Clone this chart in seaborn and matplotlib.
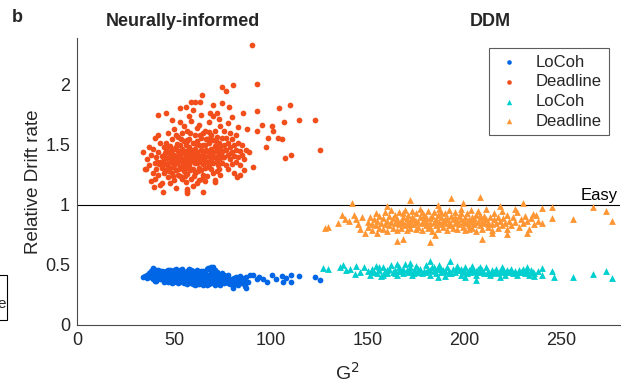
import matplotlib
matplotlib.use("Agg")
import matplotlib.pyplot as plt
import seaborn as sns
import pandas as pd
from matplotlib.patches import Rectangle

# ---------------- data ----------------
# Neurally-informed, Deadline (red circles)
neu_dl = [
    (36,1.38),(37,1.33),(38,1.42),(39,1.27),(39,1.47),(40,1.35),(40,1.22),(41,1.40),(41,1.30),(42,1.44),
    (42,1.25),(43,1.36),(43,1.52),(44,1.31),(44,1.41),(44,1.18),(45,1.48),(45,1.34),(45,1.27),(35,1.30),
    (37,1.48),(38,1.20),(40,1.56),(42,1.58),(43,1.17),
    (46,1.39),(46,1.29),(46,1.52),(47,1.44),(47,1.35),(47,1.23),(47,1.60),(48,1.41),(48,1.31),(48,1.49),
    (48,1.18),(49,1.37),(49,1.46),(49,1.27),(49,1.55),(50,1.42),(50,1.33),(50,1.21),(50,1.63),(51,1.39),
    (51,1.48),(51,1.29),(51,1.14),(52,1.45),(52,1.36),(52,1.25),(52,1.57),(53,1.41),(53,1.32),(53,1.50),
    (53,1.69),(54,1.38),(54,1.47),(54,1.22),(54,1.60),(55,1.43),(55,1.34),(55,1.28),(55,1.53),(46,1.45),
    (48,1.36),(50,1.47),(52,1.40),(54,1.31),(55,1.66),(49,1.71),(51,1.58),(53,1.24),(47,1.49),(50,1.38),
    (56,1.40),(56,1.31),(56,1.50),(56,1.19),(57,1.44),(57,1.36),(57,1.26),(57,1.62),(58,1.41),(58,1.48),
    (58,1.33),(58,1.55),(59,1.37),(59,1.45),(59,1.22),(59,1.70),(60,1.42),(60,1.52),(60,1.30),(60,1.16),
    (61,1.39),(61,1.47),(61,1.58),(61,1.27),(62,1.44),(62,1.35),(62,1.64),(63,1.41),(63,1.50),(63,1.31),
    (63,1.21),(64,1.46),(64,1.38),(64,1.56),(64,1.75),(65,1.43),(65,1.34),(65,1.60),(65,1.25),(56,1.45),
    (58,1.38),(60,1.46),(62,1.53),(64,1.29),(57,1.53),(59,1.30),(61,1.35),(63,1.67),(65,1.50),(62,1.18),
    (60,1.79),(58,1.74),(56,1.82),(57,1.13),
    (66,1.40),(66,1.50),(66,1.31),(66,1.62),(67,1.45),(67,1.36),(67,1.55),(67,1.24),(68,1.42),(68,1.52),
    (68,1.33),(68,1.69),(69,1.47),(69,1.38),(69,1.58),(70,1.44),(70,1.35),(70,1.54),(70,1.27),(71,1.49),
    (71,1.40),(71,1.62),(71,1.21),(72,1.46),(72,1.37),(72,1.57),(73,1.43),(73,1.52),(73,1.30),(74,1.48),
    (74,1.39),(74,1.66),(75,1.45),(75,1.35),(75,1.56),(66,1.20),(68,1.61),(70,1.74),(72,1.28),(74,1.25),
    (69,1.30),(73,1.72),
    (76,1.50),(76,1.40),(76,1.62),(77,1.46),(77,1.33),(77,1.56),(78,1.42),(78,1.52),(78,1.30),(79,1.48),
    (79,1.38),(79,1.60),(80,1.44),(80,1.34),(80,1.55),(81,1.50),(81,1.41),(82,1.46),(82,1.36),(82,1.58),
    (83,1.40),(83,1.52),(84,1.45),(84,1.33),(85,1.42),(85,1.50),(86,1.38),(86,1.29),(78,1.68),(81,1.27),
    (83,1.65),(84,1.25),(80,1.73),(87,1.46),
    (44.5,1.37),(45.5,1.43),(46.5,1.33),(47.5,1.40),(48.5,1.45),(49.5,1.32),(50.5,1.40),(51.5,1.35),
    (52.5,1.43),(53.5,1.37),(54.5,1.35),(55.5,1.39),(56.5,1.35),(57.5,1.41),(58.5,1.29),(59.5,1.40),
    (60.5,1.36),(61.5,1.43),(62.5,1.39),(63.5,1.36),(64.5,1.42),(65.5,1.38),(66.5,1.46),(67.5,1.41),
    (68.5,1.37),(69.5,1.43),(70.5,1.40),(71.5,1.45),(72.5,1.41),(73.5,1.47),(74.5,1.43),(75.5,1.40),
    (42.5,1.34),(41.5,1.36),(47.5,1.28),(52.5,1.30),(57.5,1.31),(62.5,1.28),(67.5,1.32),(72.5,1.33),
    (46.5,1.48),(51.5,1.51),(56.5,1.54),(61.5,1.51),(66.5,1.55),(71.5,1.53),(76.5,1.46),(79.5,1.43),
    (55.5,1.24),(60.5,1.24),(64.5,1.22),(49.5,1.24),(53.5,1.55),(58.5,1.60),(63.5,1.58),(68.5,1.56),
    (90.2,2.33),(92.8,2.01),(75,1.98),(80.6,2.0),(76.8,1.95),(110,1.83),(104,1.81),(122.7,1.71),
    (114.4,1.71),(106.7,1.69),(125.3,1.46),(110.3,1.42),(107.2,1.39),(97.4,1.48),(90.7,1.32),(105.7,1.55),
    (103.6,1.56),(98.5,1.56),(101,1.62),(100.5,1.66),(95.4,1.67),(92.6,1.78),(85.6,1.77),(92.6,1.62),
    (87.6,1.63),(88.7,1.44),(82.5,1.23),(71,1.19),(65,1.11),(57,1.10),(56.7,1.12),(44.3,1.11),(39.7,1.15),
    (34,1.44),(35.6,1.30),(41.9,1.75),(45.8,1.77),(53,1.81),(64.4,1.92),(59,1.86),(63.4,1.86),(61,1.86),
    (70,1.83),(74.7,1.85),(78.4,1.82),(72,1.77),(68.6,1.77),
]

# Neurally-informed, LoCoh (blue circles)
neu_lo = [
    (35,0.41),(36,0.39),(37,0.43),(38,0.40),(38,0.45),(39,0.42),(39,0.38),(40,0.44),(40,0.40),(41,0.46),
    (41,0.41),(41,0.37),(42,0.43),(42,0.39),(43,0.45),(43,0.41),(44,0.42),(44,0.38),(45,0.44),(45,0.40),
    (45,0.36),(39,0.47),(42,0.46),(44,0.45),(37,0.40),(40,0.37),(43,0.38),(36,0.42),
    (46,0.41),(46,0.45),(46,0.38),(47,0.43),(47,0.39),(47,0.36),(48,0.42),(48,0.46),(48,0.40),(49,0.44),
    (49,0.38),(49,0.41),(50,0.43),(50,0.39),(50,0.46),(51,0.41),(51,0.37),(51,0.44),(52,0.42),(52,0.38),
    (52,0.45),(53,0.40),(53,0.36),(53,0.43),(54,0.41),(54,0.44),(54,0.38),(55,0.42),(55,0.39),(55,0.35),
    (47,0.46),(49,0.35),(51,0.47),(53,0.46),(50,0.36),(48,0.37),(52,0.35),(54,0.47),
    (56,0.40),(56,0.44),(56,0.37),(57,0.42),(57,0.38),(57,0.45),(58,0.41),(58,0.36),(58,0.44),(59,0.39),
    (59,0.43),(59,0.35),(60,0.41),(60,0.37),(60,0.45),(61,0.40),(61,0.43),(61,0.36),(62,0.38),(62,0.42),
    (62,0.34),(63,0.40),(63,0.44),(63,0.37),(64,0.39),(64,0.35),(64,0.42),(65,0.38),(65,0.41),(65,0.33),
    (58,0.47),(60,0.34),(62,0.46),(64,0.45),(57,0.34),(59,0.46),(61,0.33),(63,0.34),(65,0.45),
    (66,0.39),(66,0.36),(66,0.43),(67,0.40),(67,0.37),(67,0.47),(68,0.38),(68,0.42),(68,0.34),(69,0.40),
    (69,0.36),(69,0.48),(70,0.39),(70,0.43),(70,0.35),(71,0.37),(71,0.41),(71,0.33),(72,0.39),(72,0.36),
    (72,0.44),(73,0.38),(73,0.34),(73,0.42),(74,0.37),(74,0.40),(75,0.36),(75,0.39),(75,0.43),(76,0.35),
    (76,0.38),(67,0.33),(69,0.44),(71,0.46),(74,0.33),(76,0.42),(68,0.47),
    (77,0.37),(77,0.40),(78,0.35),(78,0.39),(79,0.37),(79,0.34),(80,0.38),(80,0.36),(80.6,0.31),(81,0.39),
    (81,0.35),(82,0.37),(82,0.40),(83,0.36),(83,0.33),(84,0.38),(85,0.35),(85,0.39),(86,0.37),(86.6,0.325),
    (87.3,0.31),(87,0.40),(88,0.36),(89,0.42),(78,0.42),(84,0.41),(82,0.34),
    (90.7,0.42),(92.6,0.38),(94,0.40),(96,0.38),(97.8,0.36),(100.5,0.42),(102.6,0.38),(105.7,0.41),
    (106.4,0.36),(108,0.39),(110.3,0.42),(110.3,0.36),(114.4,0.41),(122.7,0.40),(125.3,0.375),
    (34,0.40),(39.2,0.475),(67.6,0.475),(70,0.48),
]

# DDM, LoCoh (cyan triangles)
ddm_lo = [
    (126.8,0.475),(129.4,0.47),(135.6,0.48),(137,0.50),(141,0.47),(143.8,0.49),(143.3,0.425),(139,0.46),
    (146,0.44),(148,0.48),
    (150,0.45),(151,0.42),(152,0.47),(153,0.44),(154,0.49),(155,0.43),(156,0.46),(157,0.41),(158,0.48),
    (159,0.45),(160,0.43),(161,0.47),(162,0.50),(163,0.44),(164,0.46),(165,0.42),(166,0.48),(167,0.45),
    (168,0.43),(169,0.51),(170,0.46),(171,0.44),(172,0.48),(173,0.42),(174,0.46),(175,0.49),(176,0.44),
    (177,0.47),(178,0.43),(179,0.45),(180,0.50),(181,0.46),(182,0.42),(183,0.48),(184,0.45),(185,0.43),
    (186,0.47),(187,0.50),(188,0.44),(189,0.46),(190,0.41),(191,0.48),(192,0.45),(193,0.43),(194,0.47),
    (195,0.44),(196,0.49),(197,0.46),(198,0.42),(199,0.45),(200,0.48),(201,0.43),(202,0.46),(203,0.44),
    (204,0.49),(205,0.45),(206,0.42),(207,0.47),(208,0.44),(209,0.46),(210,0.43),(211,0.48),(212,0.45),
    (213,0.42),(214,0.46),(215,0.44),(216,0.47),(217,0.43),(218,0.45),(219,0.48),(220,0.44),(221,0.42),
    (222,0.46),(223,0.44),(224,0.47),(225,0.43),(226,0.45),(227,0.42),(228,0.46),(229,0.44),(230,0.47),
    (231,0.43),(232,0.45),(233,0.42),(234,0.46),(235,0.44),(236,0.43),(238,0.45),(240,0.42),
    (152,0.44),(156,0.48),(160,0.46),(164,0.43),(168,0.47),(172,0.45),(176,0.47),(180,0.44),(184,0.48),
    (188,0.47),(192,0.43),(196,0.46),(200,0.44),(204,0.46),(208,0.48),(212,0.43),(216,0.45),(220,0.47),
    (224,0.45),(228,0.44),(158,0.42),(166,0.45),(174,0.43),(182,0.46),(190,0.45),(198,0.47),(206,0.45),
    (214,0.43),(222,0.45),(230,0.45),
    (171.6,0.52),(182,0.53),(192.3,0.53),(206,0.375),(232,0.48),(239.7,0.475),(244.8,0.45),(245.9,0.40),
    (255.7,0.40),(266,0.425),(273,0.45),(275.8,0.39),(235.7,0.41),(165,0.51),(200,0.40),(218,0.40),
    (186,0.40),
]

# DDM, Deadline (orange triangles)
ddm_dl = [
    (127.8,0.81),(129.4,0.82),(134.5,0.85),(136.6,0.92),(140.2,0.87),(142.9,0.92),(142,1.02),(138,0.88),
    (145,0.84),(146,0.80),(148.5,0.77),(147,0.90),(144,0.88),
    (150,0.86),(150,0.82),(151,0.90),(152,0.84),(152,0.79),(153,0.88),(154,0.93),(154,0.83),(155,0.77),
    (155,0.87),(156,0.91),(156,0.81),(157,0.85),(158,0.89),(158,0.80),(159,0.94),(159,0.84),(160,0.87),
    (160,0.78),(161,0.91),(161,0.83),(162,0.86),(162,0.96),(163,0.81),(163,0.89),(164,0.85),(164,0.92),
    (165,0.79),(165,0.88),(166,0.84),(166,0.94),(167,0.87),(167,0.81),(168,0.90),(168,0.85),(169,0.96),
    (169,0.83),(170,0.88),(170,0.79),(171,0.92),(171,0.85),(172,0.87),(172,0.81),(173,0.90),(173,0.95),
    (174,0.84),(174,0.88),(175,0.80),(175,0.93),(176,0.86),(176,0.82),(177,0.90),(177,0.97),(178,0.85),
    (178,0.79),(179,0.88),(179,0.92),(180,0.83),(180,0.87),(181,0.95),(181,0.81),(182,0.89),(182,0.85),
    (183,0.91),(183,0.78),(184,0.86),(184,0.94),(185,0.83),(185,0.88),(186,0.92),(186,0.80),(187,0.86),
    (187,0.97),(188,0.84),(188,0.90),(189,0.87),(189,0.82),(190,0.93),(190,0.85),(191,0.89),(191,0.79),
    (192,0.86),(192,0.96),(193,0.83),(193,0.91),(194,0.88),(194,0.81),(195,0.85),(195,0.94),(196,0.87),
    (196,0.80),(197,0.91),(197,0.84),(198,0.88),(198,0.97),(199,0.82),(199,0.86),(200,0.90),(200,0.79),
    (201,0.85),(201,0.93),(202,0.88),(202,0.83),(203,0.96),(203,0.86),(204,0.81),(204,0.90),(205,0.87),
    (205,0.84),(206,0.92),(206,0.78),(207,0.86),(207,0.95),(208,0.83),(208,0.89),(209,0.87),(209,0.80),
    (210,0.91),(210,0.85),(211,0.88),(211,0.97),(212,0.82),(212,0.86),(213,0.90),(214,0.84),(214,0.79),
    (215,0.88),(215,0.93),(216,0.85),(217,0.81),(217,0.90),(218,0.87),(219,0.83),(219,0.95),(220,0.89),
    (221,0.85),(222,0.80),(222,0.92),(223,0.87),(224,0.83),(225,0.90),(226,0.86),(227,0.94),(228,0.82),
    (229,0.88),(230,0.85),(231,0.91),(232,0.87),(233,0.80),(234,0.89),(236,0.84),(237,0.92),(238,0.87),
    (165,0.86),(170,0.84),(175,0.87),(180,0.90),(185,0.86),(190,0.88),(195,0.90),(200,0.86),(205,0.89),
    (210,0.88),(168,0.93),(178,0.94),(188,0.94),(198,0.93),(208,0.92),(172,0.84),(182,0.82),(192,0.83),
    (202,0.80),(212,0.84),
    (164.9,0.70),(168,0.715),(182,0.69),(184.5,0.75),(208.8,0.715),(213.9,0.77),(222,0.76),(232,0.77),
    (171.6,1.04),(193,1.06),(207.7,1.07),(199,1.02),(230,1.02),(235,0.925),(239.7,0.975),(239.7,0.85),
    (245,0.98),(245,0.89),(255.7,0.88),(266,0.98),(273,0.95),(275.8,0.87),(226,0.97),(218,0.99),
    (186,1.00),(160,0.99),
]

x_ticks = [0, 50, 100, 150, 200, 250]
y_ticks = [0, 0.5, 1, 1.5, 2]
y_tick_labels = ["0", "0.5", "1", "1.5", "2"]
legend_labels = ["LoCoh", "Deadline", "LoCoh", "Deadline"]

# ---------------- styling ----------------
sns.set_style("white")
plt.rcParams["font.family"] = ["Liberation Sans", "DejaVu Sans"]

c_blue = "#0066e6"
c_red = "#f24e1c"
c_cyan = "#00cfcf"
c_orange = "#ff9633"
axis_col = "#4a4a4a"
txt_col = "#262626"

fig = plt.figure(figsize=(6.21, 3.85), dpi=100)
ax = fig.add_axes([0.124, 0.156, 0.874, 0.745])

def to_df(pts):
    return pd.DataFrame(pts, columns=["G2", "drift"])

sns.scatterplot(data=to_df(neu_lo), x="G2", y="drift", ax=ax, color=c_blue, marker="o",
                s=17, linewidth=0, label=legend_labels[0])
sns.scatterplot(data=to_df(neu_dl), x="G2", y="drift", ax=ax, color=c_red, marker="o",
                s=17, linewidth=0, label=legend_labels[1])
sns.scatterplot(data=to_df(ddm_lo), x="G2", y="drift", ax=ax, color=c_cyan, marker="^",
                s=24, linewidth=0, label=legend_labels[2])
sns.scatterplot(data=to_df(ddm_dl), x="G2", y="drift", ax=ax, color=c_orange, marker="^",
                s=24, linewidth=0, label=legend_labels[3])

ax.axhline(1, color="black", lw=0.8, zorder=0)
ax.text(260, 1.015, "Easy", fontsize=12, ha="left", va="bottom", color="black")

ax.set_xlim(0, 280)
ax.set_ylim(0, 2.39)
ax.set_xticks(x_ticks)
ax.set_yticks(y_ticks)
ax.set_yticklabels(y_tick_labels)
ax.tick_params(direction="in", length=4, width=0.8, colors=axis_col, labelsize=13,
               labelcolor=txt_col, pad=5)
for side in ["top", "right"]:
    ax.spines[side].set_visible(False)
for side in ["left", "bottom"]:
    ax.spines[side].set_color(axis_col)
    ax.spines[side].set_linewidth(0.8)

ax.set_xlabel("G$^2$", fontsize=14, color=txt_col)
ax.set_ylabel("Relative Drift rate", fontsize=13.5, color=txt_col)
ax.xaxis.set_label_coords(0.498, -0.128)
ax.yaxis.set_label_coords(-0.064, 0.5)

leg = ax.legend(loc="upper right", bbox_to_anchor=(1.0 - 11 / 543, 1 - 10 / 287), fontsize=12,
                frameon=True, fancybox=False, edgecolor="#333333", handletextpad=0.9,
                borderpad=0.4, labelspacing=0.28, markerscale=0.8, handlelength=1.5,
                borderaxespad=0)
leg.get_frame().set_linewidth(0.8)

fig.text(12 / 621, 1 - 17 / 385, "b", fontsize=13, fontweight="bold", ha="left", va="center")
fig.text(183 / 621, 1 - 21 / 385, "Neurally-informed", fontsize=13, fontweight="bold",
         ha="center", va="center")
fig.text(490 / 621, 1 - 21 / 385, "DDM", fontsize=13, fontweight="bold", ha="center", va="center")

# cut-off box from neighbouring panel at the left edge (as in the reference)
fig.patches.append(Rectangle((-40 / 621, 1 - 320 / 385), 47 / 621, 45 / 385,
                             transform=fig.transFigure, fill=False, edgecolor="black", lw=0.8))
fig.text(-3 / 621, 1 - 304 / 385, "e", fontsize=11, ha="left", va="center")

fig.savefig("out.png", dpi=100)
